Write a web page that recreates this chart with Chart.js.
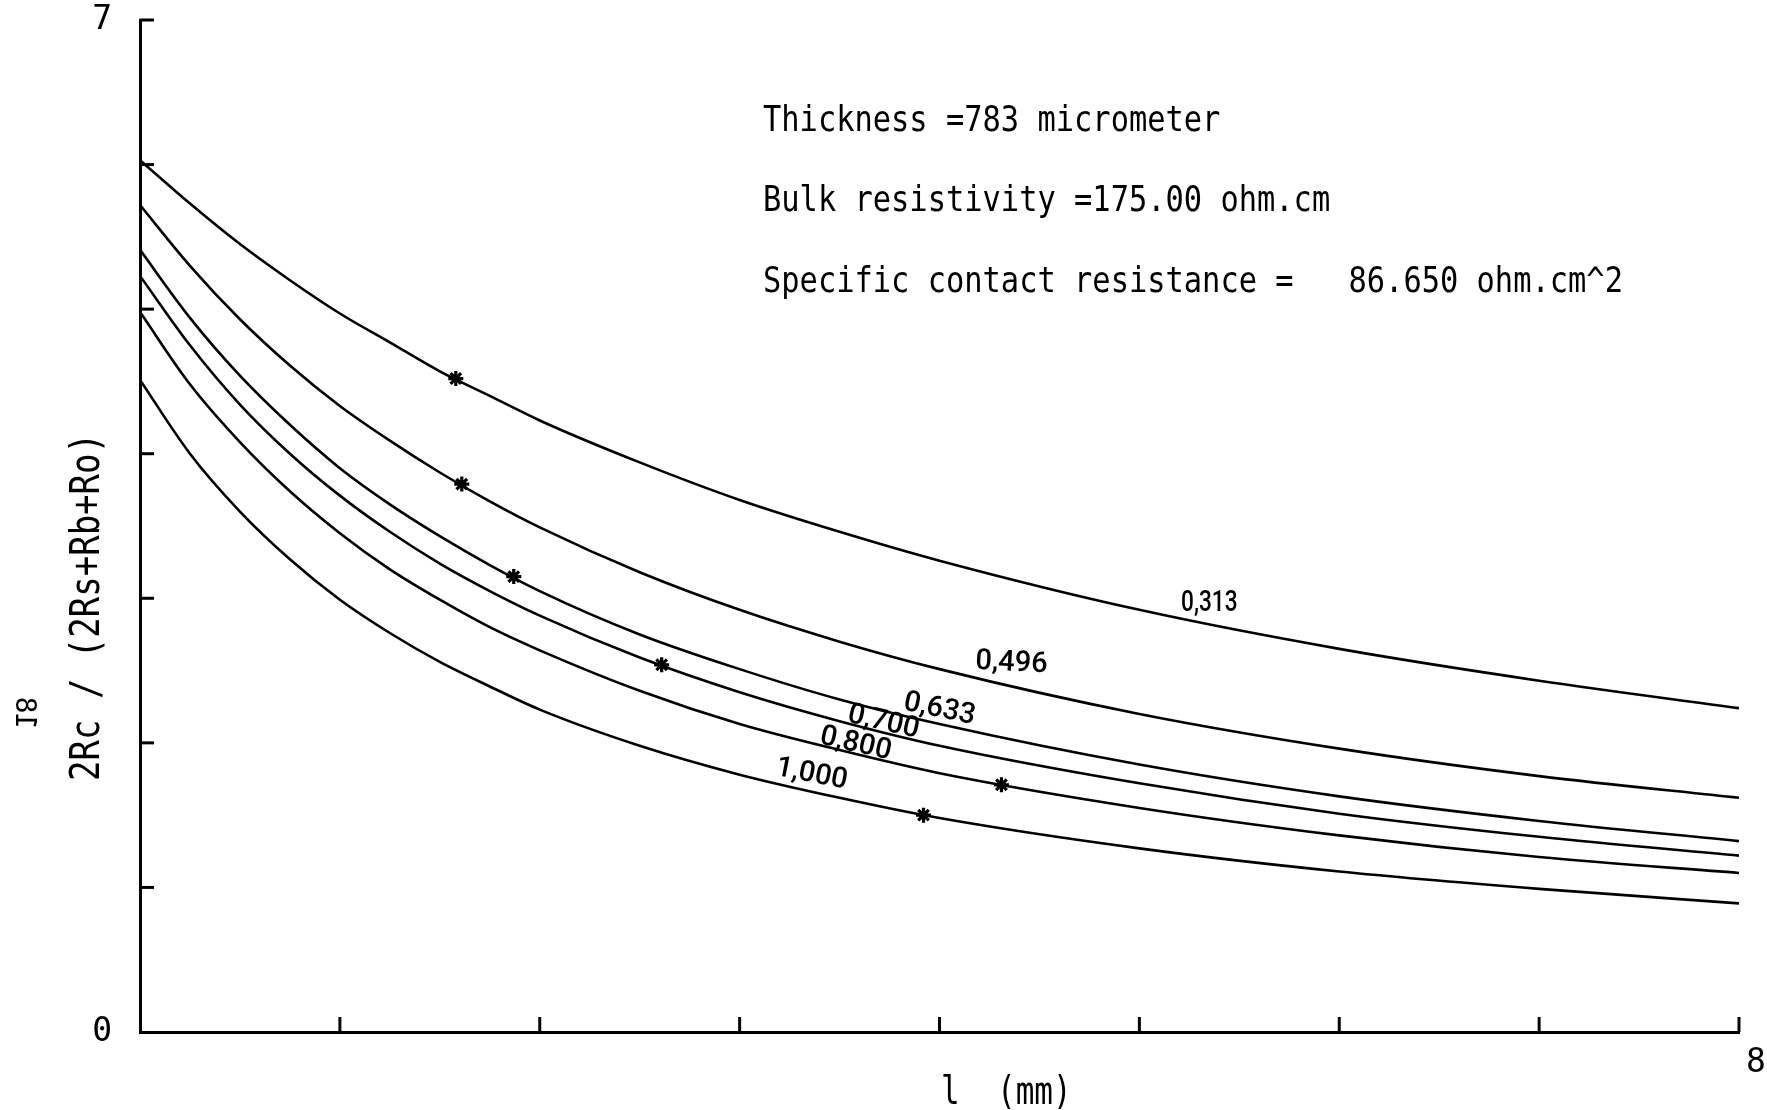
<!DOCTYPE html>
<html>
<head>
<meta charset="utf-8">
<script src="https://cdn.jsdelivr.net/npm/chart.js@4.4.1/dist/chart.umd.min.js"></script>
<style>
  html, body { margin: 0; padding: 0; background: #ffffff; }
  #wrap { width: 1767px; height: 1110px; }
</style>
</head>
<body>
<div id="wrap"><canvas id="c" width="1767" height="1110"></canvas></div>
<script>
// ---------- DATA ----------
const xGrid = [0, 0.25, 0.5, 0.75, 1, 1.25, 1.5, 1.75, 2, 2.5, 3, 3.5, 4, 5, 6, 7, 8];
const curveNames = ['0,313', '0,496', '0,633', '0,700', '0,800', '1,000'];
const s0313 = [6.03, 5.73, 5.45, 5.20, 4.97, 4.77, 4.57, 4.40, 4.23, 3.94, 3.68, 3.46, 3.26, 2.92, 2.65, 2.43, 2.24];
const s0496 = [5.72, 5.30, 4.93, 4.61, 4.33, 4.09, 3.87, 3.67, 3.49, 3.18, 2.92, 2.70, 2.51, 2.20, 1.96, 1.77, 1.62];
const s0633 = [5.41, 4.94, 4.54, 4.20, 3.90, 3.65, 3.43, 3.23, 3.05, 2.75, 2.51, 2.30, 2.13, 1.85, 1.63, 1.46, 1.32];
const s0700 = [5.23, 4.75, 4.34, 4.00, 3.71, 3.46, 3.24, 3.05, 2.88, 2.59, 2.35, 2.15, 1.98, 1.72, 1.51, 1.35, 1.22];
const s0800 = [4.98, 4.48, 4.08, 3.74, 3.45, 3.20, 2.99, 2.80, 2.64, 2.36, 2.13, 1.95, 1.79, 1.55, 1.36, 1.21, 1.10];
const s1000 = [4.51, 4.00, 3.60, 3.27, 2.99, 2.76, 2.56, 2.39, 2.23, 1.98, 1.78, 1.62, 1.48, 1.27, 1.11, 0.99, 0.89];
const markerX = [1.58, 1.61, 1.87, 2.61, 4.31, 3.92];
const markerY = [4.52, 3.79, 3.15, 2.54, 1.71, 1.50];
const xTickValues = [1, 2, 3, 4, 5, 6, 7, 8];
const yTickValues = [1, 2, 3, 4, 5, 6, 7];
const xTickLabels = { 8: '8' };
const yTickLabels = { 0: '0', 7: '7' };
const infoLines = [
  'Thickness =783 micrometer',
  'Bulk resistivity =175.00 ohm.cm',
  'Specific contact resistance =   86.650 ohm.cm^2'
];
const yTitle = '2Rc / (2Rs+Rb+Ro)';
const xTitle = 'l  (mm)';
const pageMarkChars = ['8', '1'];

// ---------- label placement (data units) and styling ----------
const curveLabelPos = [
  { x: 5.35, y: 2.96, rot: 0,  sx: 0.78 },
  { x: 4.36, y: 2.55, rot: 3,  sx: 1 },
  { x: 4.00, y: 2.23, rot: 12, sx: 1 },
  { x: 3.72, y: 2.14, rot: 13, sx: 1 },
  { x: 3.58, y: 1.99, rot: 13, sx: 1 },
  { x: 3.36, y: 1.78, rot: 11, sx: 1 }
];

const MONO = '"DejaVu Sans Mono", "Liberation Mono", monospace';
const seriesArrays = [s0313, s0496, s0633, s0700, s0800, s1000];

const datasets = seriesArrays.map((arr, k) => ({
  label: curveNames[k],
  data: xGrid.map((x, i) => ({ x: x, y: arr[i] })),
  showLine: true,
  borderColor: '#000',
  borderWidth: 2.6,
  pointRadius: 0,
  cubicInterpolationMode: 'monotone',
  fill: false
}));
datasets.push({
  label: 'markers',
  data: markerX.map((x, i) => ({ x: x, y: markerY[i] })),
  showLine: false,
  pointStyle: 'star',
  pointRadius: 7.5,
  borderColor: '#000',
  backgroundColor: '#000',
  borderWidth: 3.2
});

function drawText(ctx, txt, x, y, o) {
  ctx.save();
  ctx.translate(x, y);
  if (o.matrix) ctx.transform(o.matrix[0], o.matrix[1], o.matrix[2], o.matrix[3], 0, 0);
  if (o.rot) ctx.rotate(o.rot);
  ctx.scale(o.sx || 1, o.sy || 1);
  ctx.font = o.font;
  ctx.textAlign = o.align || 'left';
  ctx.textBaseline = o.baseline || 'alphabetic';
  ctx.fillStyle = '#000';
  ctx.fillText(txt, 0, 0);
  ctx.restore();
}

const decor = {
  id: 'decor',
  afterDraw(chart) {
    const ctx = chart.ctx;
    const xs = chart.scales.x, ys = chart.scales.y, a = chart.chartArea;
    // inward tick marks
    ctx.save();
    ctx.strokeStyle = '#000';
    ctx.lineWidth = 3;
    ctx.lineCap = 'butt';
    xTickValues.forEach(v => {
      const px = xs.getPixelForValue(v);
      ctx.beginPath(); ctx.moveTo(px, a.bottom); ctx.lineTo(px, a.bottom - 15); ctx.stroke();
    });
    yTickValues.forEach(v => {
      const py = ys.getPixelForValue(v);
      ctx.beginPath(); ctx.moveTo(a.left, py); ctx.lineTo(a.left + 14, py); ctx.stroke();
    });
    ctx.restore();

    // info block
    const infoBase = [131, 211, 292];
    infoLines.forEach((t, i) => drawText(ctx, t, 763, infoBase[i], { font: '30.4px ' + MONO, sy: 1.15 }));

    // axis titles
    drawText(ctx, yTitle, 88, 607, { font: '34px ' + MONO, rot: -Math.PI / 2, align: 'center', baseline: 'middle', sy: 1.2 });
    drawText(ctx, xTitle, 941, 1104, { font: '31px ' + MONO, sy: 1.25 });

    // sideways, mirrored page mark ("8" above "1")
    const markPos = [[23, 705], [23, 721]];
    pageMarkChars.forEach((ch, i) => drawText(ctx, ch, markPos[i][0], markPos[i][1],
      { font: '28px ' + MONO, matrix: [0, -1, -1, 0], align: 'center', baseline: 'middle' }));

    // curve labels
    curveNames.forEach((t, k) => {
      const p = curveLabelPos[k];
      drawText(ctx, t, xs.getPixelForValue(p.x), ys.getPixelForValue(p.y),
        { font: '500 29px Roboto, "DejaVu Sans", sans-serif', rot: p.rot * Math.PI / 180, align: 'center', baseline: 'middle', sx: p.sx });
    });
  }
};

new Chart(document.getElementById('c').getContext('2d'), {
  type: 'line',
  data: { datasets: datasets },
  options: {
    responsive: false,
    animation: false,
    layout: { padding: { left: 0, top: 20, right: 28, bottom: 0 } },
    plugins: { legend: { display: false }, tooltip: { enabled: false }, title: { display: false } },
    scales: {
      x: {
        type: 'linear', min: 0, max: 8,
        grid: { display: false },
        border: { display: true, color: '#000', width: 3 },
        ticks: {
          stepSize: 1, autoSkip: false, maxRotation: 0, align: 'start', labelOffset: 7, padding: 4,
          color: '#000', font: { family: MONO, size: 33 },
          callback: v => xTickLabels[v] || ''
        },
        afterFit(s) { s.height = 78; s.paddingLeft = 0; s.paddingRight = 0; }
      },
      y: {
        type: 'linear', min: 0, max: 7,
        grid: { display: false },
        border: { display: true, color: '#000', width: 3 },
        ticks: {
          stepSize: 1, autoSkip: false, padding: 20,
          color: '#000', font: { family: MONO, size: 33 },
          callback: v => yTickLabels[v] || ''
        },
        afterFit(s) { s.width = 140; s.paddingTop = 0; s.paddingBottom = 0; }
      }
    }
  },
  plugins: [decor]
});
</script>
</body>
</html>
